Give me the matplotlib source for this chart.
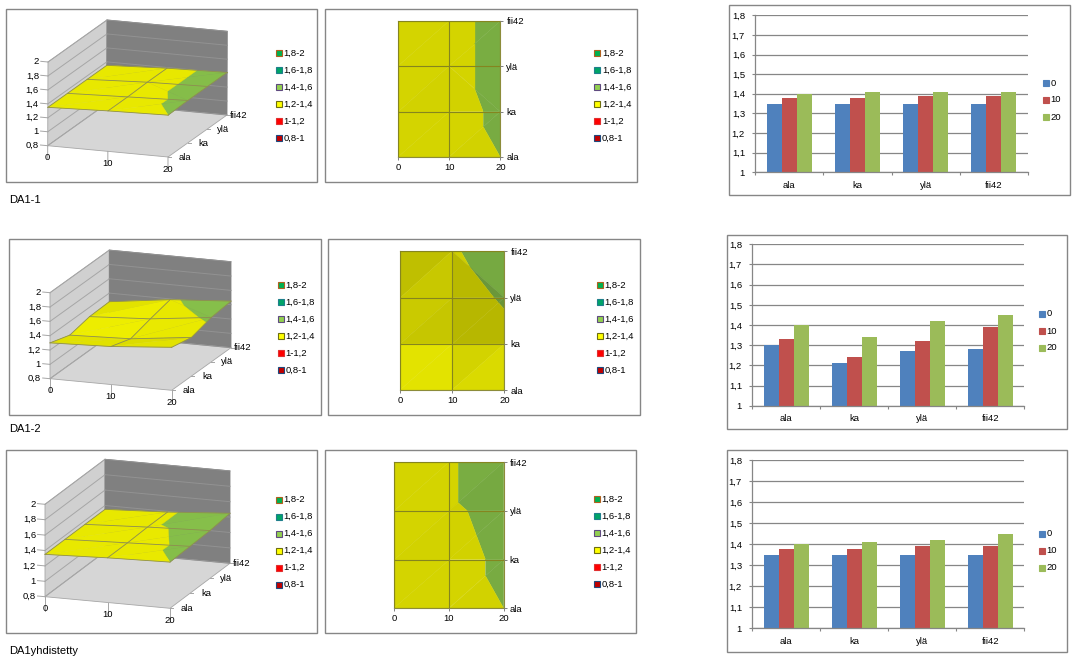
import numpy as np
import matplotlib
matplotlib.use("Agg")
import matplotlib.pyplot as plt
from matplotlib.patches import Polygon, Rectangle

plt.rcParams['font.family'] = ['Liberation Sans', 'DejaVu Sans']

# bar heights, rows = ala/ka/yla/fii42, cols = 0/10/20
categories = ["ala", "ka", "ylä", "fii42"]
series_names = ["0", "10", "20"]
x_levels = [0, 10, 20]
da1_1 = [[1.35, 1.38, 1.40], [1.35, 1.38, 1.41], [1.35, 1.39, 1.41], [1.35, 1.39, 1.41]]
da1_2 = [[1.30, 1.33, 1.40], [1.21, 1.24, 1.34], [1.27, 1.32, 1.42], [1.28, 1.39, 1.45]]
da1_y = [[1.35, 1.38, 1.40], [1.35, 1.38, 1.41], [1.35, 1.39, 1.42], [1.35, 1.39, 1.45]]
captions = ["DA1-1", "DA1-2", "DA1yhdistetty"]

band_labels = ["1,8-2", "1,6-1,8", "1,4-1,6", "1,2-1,4", "1-1,2", "0,8-1"]
band_edges = [2.0, 1.8, 1.6, 1.4, 1.2, 1.0, 0.8]
band_fill = ["#00b050", "#00a468", "#92d050", "#ffff00", "#ff0000", "#c00000"]
band_border = ["#b0601e", "#1f7f8c", "#5f4a80", "#6e6e10", "#e03030", "#1f497d"]
bar_colors = ["#4f81bd", "#c0504d", "#9bbb59"]
bar_ticks = [1, 1.1, 1.2, 1.3, 1.4, 1.5, 1.6, 1.7, 1.8]
z_ticks = [0.8, 1, 1.2, 1.4, 1.6, 1.8, 2]

# pixel layout of each row
frames_3d = [(6, 9, 317, 182), (9, 239, 321, 415), (6, 450, 317, 633)]
frames_top = [(325, 9, 637, 182), (328, 239, 640, 415), (325, 450, 636, 633)]
frames_bar = [(729, 5, 1070, 195), (727, 235, 1067, 429), (727, 450, 1067, 652)]
axes_top = [(398, 21, 500.3, 157), (400.3, 251.3, 504.3, 390.3), (394.3, 462, 503.7, 608.3)]
axes_bar = [(755.3, 15.3, 1028, 172.3), (752.3, 244.3, 1024.3, 405.7), (752.3, 460.3, 1024.3, 628.3)]
# front left, front right, back right, front left at z=2
box_3d = [((47.7, 145.7), (168, 157), (227, 115), (48, 62)),
          ((50, 378.7), (171.7, 390.3), (231, 347.7), (50, 292.7)),
          ((45, 596.7), (170, 608.3), (230, 563.3), (45, 504.3))]
legend_3d = [(275.7, 53), (278, 285), (275.7, 499.5)]
legend_top = [(594.3, 53), (597, 285), (594, 499.3)]
legend_bar = [(1043, 83), (1039, 314), (1039, 533.7)]
caption_pos = [(9, 200), (9, 428.5), (9, 651)]

W, H = 1081, 667
FS = 6.8
fig = plt.figure(figsize=(W / 100, H / 100), dpi=100, facecolor="white")

# whole figure axes in pixels, for frames, legends and the oblique 3d boxes
bg = fig.add_axes([0, 0, 1, 1])
bg.set_xlim(0, W)
bg.set_ylim(H, 0)
bg.axis("off")


def px_axes(box):
    x0, y0, x1, y1 = box
    return fig.add_axes([x0 / W, 1 - y1 / H, (x1 - x0) / W, (y1 - y0) / H])


def frame(box):
    x0, y0, x1, y1 = box
    bg.add_patch(Rectangle((x0, y0), x1 - x0, y1 - y0, fc="white", ec="#868686", lw=1.0, zorder=0))


def clip_band(tri, lo, hi):
    # cut a triangle (x, d, z) to the z range lo..hi
    poly = [np.array(p, dtype=float) for p in tri]
    for limit, sign in ((lo, 1), (hi, -1)):
        out = []
        for i in range(len(poly)):
            a, b = poly[i], poly[(i + 1) % len(poly)]
            ina = sign * (a[2] - limit) >= 0
            inb = sign * (b[2] - limit) >= 0
            if ina:
                out.append(a)
            if ina != inb:
                t = (limit - a[2]) / (b[2] - a[2])
                out.append(a + t * (b - a))
        poly = out
        if not poly:
            break
    return poly


def triangles(grid):
    # excel splits every cell in 2 along the diagonal with the higher mean
    z = np.array(grid)
    tris = []
    for r in range(z.shape[0] - 2, -1, -1):
        for c in range(z.shape[1] - 1):
            a = (x_levels[c], r, z[r, c])
            b = (x_levels[c + 1], r, z[r, c + 1])
            e = (x_levels[c + 1], r + 1, z[r + 1, c + 1])
            f = (x_levels[c], r + 1, z[r + 1, c])
            if a[2] + e[2] >= b[2] + f[2] - 1e-9:
                tris += [(a, f, e), (a, b, e)]
            else:
                tris += [(f, e, b), (a, f, b)]
    return tris


def shade(tri, base, k0, k1, k2):
    # lighting from the slope of the triangle, small x slopes stay flat
    p = np.array(tri)
    m = np.column_stack([p[:, 0], p[:, 1], np.ones(3)])
    gx, gd, _ = np.linalg.solve(m, p[:, 2])
    rgb = np.array(matplotlib.colors.to_rgb(base))
    return tuple(np.clip(rgb * (k0 - k1 * gd - k2 * max(gx - 0.006, 0)), 0, 1))


def draw_bands(grid, draw, k0, k1, k2):
    for tri in triangles(grid):
        for i, color in enumerate(band_fill):
            part = clip_band(tri, band_edges[i + 1], band_edges[i])
            if len(part) >= 3:
                draw(part, shade(tri, color, k0, k1, k2))


def legend(x, y, labels, fills, borders, step):
    for i, label in enumerate(labels):
        bg.add_patch(Rectangle((x, y + i * step - 3), 6, 6, fc=fills[i], ec=borders[i], lw=0.8))
        bg.text(x + 7.5, y + i * step, label, fontsize=FS, va="center", ha="left", color="black")


def draw_3d(grid, geom):
    fl, fr, br, top = [np.array(p) for p in geom]
    ex = (fr - fl) / 20
    ed = (br - fr) / 3
    ez = (top - fl) / 1.2

    def proj(x, d, z):
        return fl + x * ex + d * ed + (z - 0.8) * ez

    def quad(pts, **kw):
        bg.add_patch(Polygon([proj(*p) for p in pts], closed=True, zorder=1, **kw))

    def line(pts, zorder=2, **kw):
        xy = np.array([proj(*p) for p in pts])
        bg.plot(xy[:, 0], xy[:, 1], zorder=zorder, **kw)

    quad([(0, 0, .8), (0, 3, .8), (0, 3, 2), (0, 0, 2)], fc="#d0d0d0", ec="#a6a6a6", lw=.6)
    quad([(0, 3, .8), (20, 3, .8), (20, 3, 2), (0, 3, 2)], fc="#808080", ec="#808080", lw=.6)
    quad([(0, 0, .8), (20, 0, .8), (20, 3, .8), (0, 3, .8)], fc="#d6d6d6", ec="#a6a6a6", lw=.6)
    for z in z_ticks:
        line([(0, 0, z), (0, 3, z)], color="#a6a6a6", lw=.7)
        line([(0, 3, z), (20, 3, z)], color="#929292", lw=.7)
        line([(-1.2, 0, z), (0, 0, z)], color="#a6a6a6", lw=.7)
        p = proj(0, 0, z)
        bg.text(p[0] - 9, p[1], f"{z:g}".replace(".", ","), fontsize=FS, ha="right", va="center")
    for x in x_levels:
        line([(x, 0, .8), (x, 0, .62)], color="#a6a6a6", lw=.7)
        p = proj(x, 0, .8)
        bg.text(p[0], p[1] + 12, str(x), fontsize=FS, ha="center", va="center")
    for d, (label, off) in enumerate(zip(categories, [11, 11, 10, 3])):
        p = proj(20, d, .8)
        bg.plot([p[0], p[0] + 3], [p[1], p[1]], color="#a6a6a6", lw=.7, zorder=2)
        bg.text(p[0] + off, p[1], label, fontsize=FS, ha="left", va="center")

    def poly(part, color):
        bg.add_patch(Polygon([proj(*p) for p in part], closed=True, fc=color, ec=color, lw=.25, zorder=3))

    # seen from the front the light falls the other way than from above
    draw_bands(grid, poly, 0.91, -0.3, 5.0)
    z = np.array(grid)
    for r in range(4):
        line([(x_levels[c], r, z[r, c]) for c in range(3)], zorder=4, color="#8e8e50", lw=.6)
    for c in range(3):
        line([(x_levels[c], r, z[r, c]) for r in range(4)], zorder=4, color="#8e8e50", lw=.6)


def draw_top(grid, box):
    ax = px_axes(box)

    def poly(part, color):
        ax.add_patch(Polygon([p[:2] for p in part], closed=True, fc=color, ec=color, lw=.25))

    draw_bands(grid, poly, 0.83, 0.65, 15.0)
    ax.set_xlim(0, 20)
    ax.set_ylim(0, 3)
    ax.set_xticks(x_levels)
    ax.set_yticks(range(4), categories)
    ax.yaxis.tick_right()
    ax.set_axisbelow(False)
    ax.grid(True, color="#85851f", lw=.8)
    ax.tick_params(labelsize=FS, length=2.4, width=.7, color="#808080", pad=2)
    for s in ax.spines.values():
        s.set_color("#8c8c3a")
        s.set_linewidth(.8)


def draw_bar(grid, box):
    ax = px_axes(box)
    vals = np.array(grid)
    w = 15 / 68
    x = np.arange(len(categories))
    for i, name in enumerate(series_names):
        ax.bar(x + (i - 1) * w, vals[:, i] - 1, w, bottom=1, color=bar_colors[i], label=name)
    ax.set_xlim(-0.5, 3.5)
    ax.set_ylim(1, 1.8)
    ax.set_xticks(np.arange(-0.5, 4))
    ax.set_xticklabels([])
    ax.set_xticks(x, categories, minor=True)
    ax.set_yticks(bar_ticks, [f"{v:g}".replace(".", ",") for v in bar_ticks])
    ax.set_axisbelow(True)
    ax.grid(True, axis="y", color="#868686", lw=.9)
    ax.tick_params(axis="both", which="major", labelsize=FS, length=2.4, width=.8, color="#868686", pad=5)
    ax.tick_params(axis="x", which="minor", labelsize=FS, length=0, pad=6)
    for name in ("top", "right"):
        ax.spines[name].set_visible(False)
    for name in ("left", "bottom"):
        ax.spines[name].set_color("#868686")
        ax.spines[name].set_linewidth(.9)


grids = [da1_1, da1_2, da1_y]
for i, grid in enumerate(grids):
    frame(frames_3d[i])
    frame(frames_top[i])
    frame(frames_bar[i])
    draw_3d(grid, box_3d[i])
    draw_top(grid, axes_top[i])
    draw_bar(grid, axes_bar[i])
    legend(*legend_3d[i], band_labels, band_fill, band_border, 17)
    legend(*legend_top[i], band_labels, band_fill, band_border, 17)
    legend(*legend_bar[i], series_names, bar_colors, bar_colors, 17)
    bg.text(*caption_pos[i], captions[i], fontsize=8, ha="left", va="center")

fig.savefig("out.png", dpi=100, facecolor="white")
